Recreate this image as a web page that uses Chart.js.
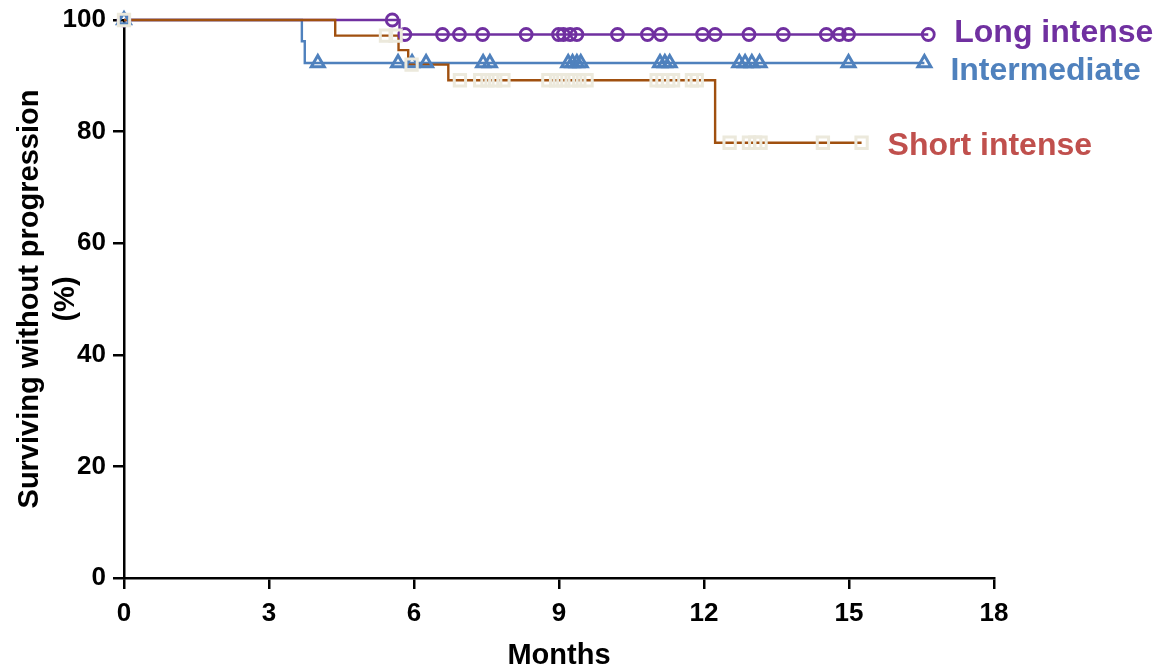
<!DOCTYPE html>
<html>
<head>
<meta charset="utf-8">
<script src="https://cdn.jsdelivr.net/npm/chart.js@4"></script>
<style>
  html, body { margin: 0; padding: 0; background: #fff; }
  #wrap { width: 1171px; height: 670px; }
</style>
</head>
<body>
<div id="wrap"><canvas id="km"></canvas></div>
<script>
// Kaplan-Meier steps (time in months, % surviving without progression)
const longStepX = [0, 5.70, 16.64];
const longStepY = [100, 97.4, 97.4];
const interStepX = [0, 3.68, 3.74, 16.56];
const interStepY = [100, 96.2, 92.3, 92.3];
const shortStepX = [0, 4.37, 5.68, 5.88, 6.71, 12.23, 15.26];
const shortStepY = [100, 97.2, 94.6, 92.0, 89.2, 78.0, 78.0];

// censored observations
const longCensorX = [0, 5.55, 5.81, 6.59, 6.94, 7.42, 8.32, 8.99, 9.09, 9.23, 9.37, 10.21, 10.83, 11.10,
  11.97, 12.23, 12.93, 13.64, 14.53, 14.80, 14.99, 16.64];
const longCensorY = [100, 100, 97.4, 97.4, 97.4, 97.4, 97.4, 97.4, 97.4, 97.4, 97.4, 97.4, 97.4, 97.4,
  97.4, 97.4, 97.4, 97.4, 97.4, 97.4, 97.4, 97.4];
const interCensorX = [0, 4.01, 5.67, 5.96, 6.25, 7.43, 7.57, 9.19, 9.28, 9.37, 9.45, 11.09, 11.19, 11.29,
  12.73, 12.85, 12.99, 13.15, 14.99, 16.56];
const interCensorY = [100, 92.3, 92.3, 92.3, 92.3, 92.3, 92.3, 92.3, 92.3, 92.3, 92.3, 92.3, 92.3, 92.3,
  92.3, 92.3, 92.3, 92.3, 92.3, 92.3];
const shortCensorX = [0, 5.42, 5.62, 5.95, 6.95, 7.37, 7.52, 7.68, 7.85, 8.78, 8.94, 9.09, 9.26, 9.42, 9.57,
  11.02, 11.14, 11.26, 11.36, 11.75, 11.85, 12.53, 12.93, 13.06, 13.17, 14.46, 15.26];
const shortCensorY = [100, 97.2, 97.2, 92.0, 89.2, 89.2, 89.2, 89.2, 89.2, 89.2, 89.2, 89.2, 89.2, 89.2, 89.2,
  89.2, 89.2, 89.2, 89.2, 89.2, 89.2, 78.0, 78.0, 78.0, 78.0, 78.0, 78.0];

const groupNames = ['Long intense', 'Intermediate', 'Short intense'];
const xTicks = [0, 3, 6, 9, 12, 15, 18];
const yTicks = [0, 20, 40, 60, 80, 100];

const PURPLE = '#7030A0';
const BLUE = '#4F81BD';
const BROWN = '#A0500F';
const RED = '#C0504D';
const BEIGE = '#ECE9DC';
const FONT = "'Liberation Sans', Arial, sans-serif";

const pts = (xs, ys) => xs.map((x, i) => ({ x: x, y: ys[i] }));

function stepSet(xs, ys, color, order) {
  return {
    type: 'line', data: pts(xs, ys), stepped: 'before', borderColor: color,
    borderWidth: 2.4, pointRadius: 0, fill: false, clip: false, order: order
  };
}
function censorSet(xs, ys, color, style, radius, width, order) {
  return {
    type: 'scatter', data: pts(xs, ys), showLine: false, pointStyle: style,
    pointRadius: radius, pointHoverRadius: radius, pointBorderColor: color,
    pointBackgroundColor: 'rgba(0,0,0,0)', pointBorderWidth: width, clip: false, order: order
  };
}

// group labels to the right of each curve's last point
const endLabels = {
  id: 'endLabels',
  afterDatasetsDraw(chart) {
    const { ctx, scales: { x, y } } = chart;
    const items = [
      [groupNames[0], PURPLE, longStepX, longStepY, -1],
      [groupNames[1], BLUE, interStepX, interStepY, 8],
      [groupNames[2], RED, shortStepX, shortStepY, 3]
    ];
    ctx.save();
    ctx.font = 'bold 32px ' + FONT;
    ctx.textBaseline = 'middle';
    items.forEach(([txt, col, xs, ys, dy]) => {
      const px = x.getPixelForValue(xs[xs.length - 1]) + 26;
      const py = y.getPixelForValue(ys[ys.length - 1]) + dy;
      ctx.fillStyle = col;
      ctx.fillText(txt, px, py);
    });
    ctx.restore();
  }
};

new Chart(document.getElementById('km'), {
  data: {
    datasets: [
      censorSet(shortCensorX, shortCensorY, BEIGE, 'rect', 8, 3, 1),
      censorSet(interCensorX, interCensorY, BLUE, 'triangle', 7.5, 3, 2),
      censorSet(longCensorX, longCensorY, PURPLE, 'circle', 6, 2.8, 3),
      stepSet(shortStepX, shortStepY, BROWN, 10),
      stepSet(interStepX, interStepY, BLUE, 12),
      stepSet(longStepX, longStepY, PURPLE, 11)
    ]
  },
  options: {
    responsive: true,
    maintainAspectRatio: false,
    animation: false,
    layout: { padding: { left: 0, right: 177, top: 19, bottom: 0 } },
    plugins: { legend: { display: false }, tooltip: { enabled: false } },
    scales: {
      x: {
        type: 'linear', min: 0, max: 18,
        afterBuildTicks: (s) => { s.ticks = xTicks.map(v => ({ value: v })); },
        afterFit: (s) => { s.height = 92; },
        border: { color: '#000', width: 2.5 },
        grid: { drawOnChartArea: false, color: '#000', tickColor: '#000', tickLength: 11, lineWidth: 2.5 },
        ticks: { color: '#000', font: { family: FONT, size: 26, weight: 'bold' }, padding: 9, maxRotation: 0 },
        title: { display: true, text: 'Months', color: '#000', font: { family: FONT, size: 29, weight: 'bold', lineHeight: 1 }, padding: { top: 0, bottom: 0 } }
      },
      y: {
        type: 'linear', min: 0, max: 100,
        afterBuildTicks: (s) => { s.ticks = yTicks.map(v => ({ value: v })); },
        afterFit: (s) => { s.width = 124; },
        border: { color: '#000', width: 2.5 },
        grid: { drawOnChartArea: false, color: '#000', tickColor: '#000', tickLength: 11, lineWidth: 2.5 },
        ticks: { color: '#000', font: { family: FONT, size: 26, weight: 'bold', lineHeight: 1 }, padding: 7 },
        title: {
          display: true, text: ['Surviving without progression', '(%)'], color: '#000',
          font: { family: FONT, size: 29, weight: 'bold', lineHeight: 1.25 }, padding: { top: 12, bottom: 0 }
        }
      }
    }
  },
  plugins: [endLabels]
});
</script>
</body>
</html>
